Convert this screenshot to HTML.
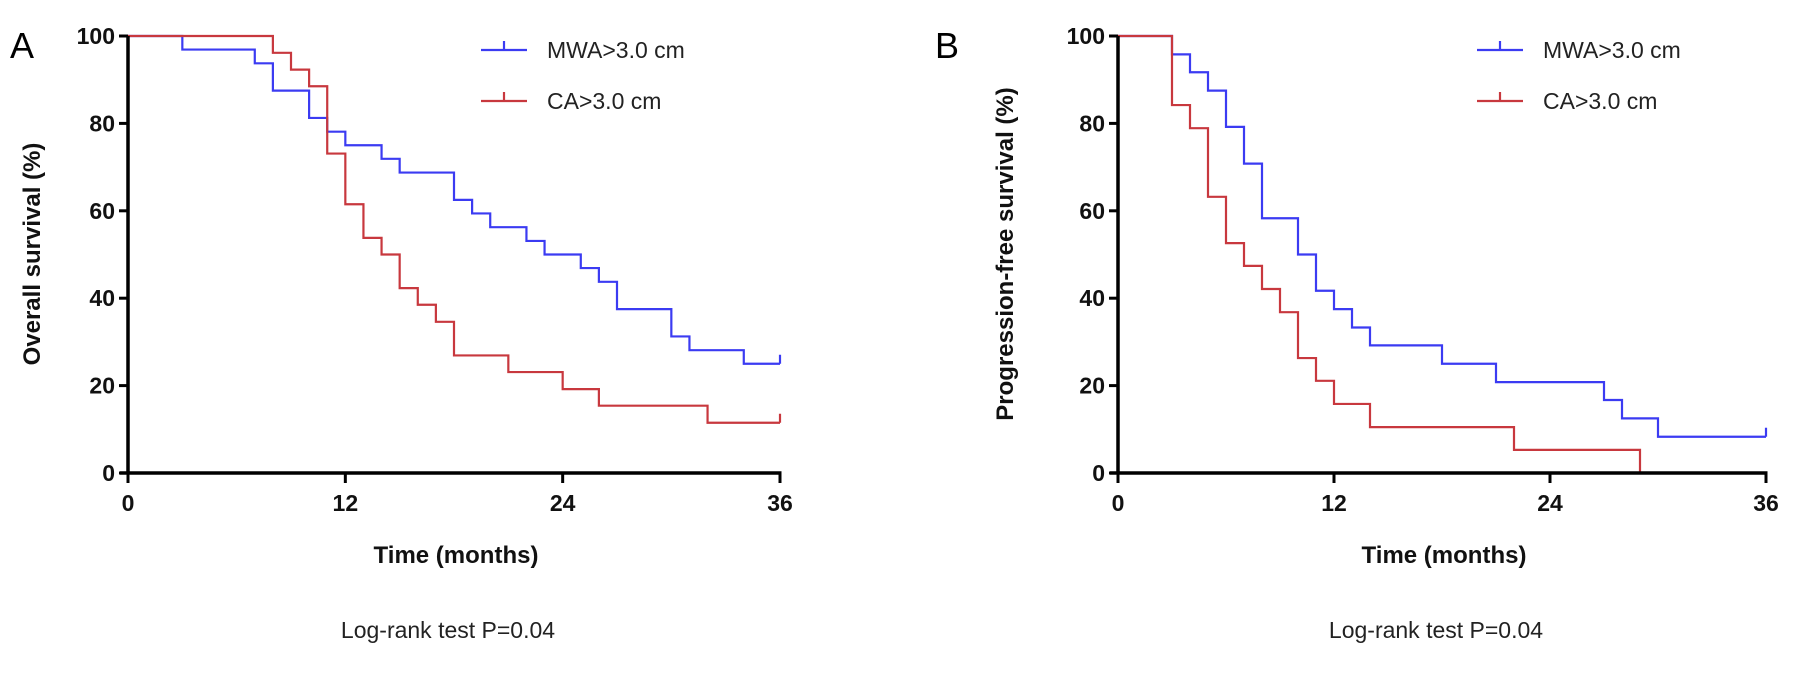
<!DOCTYPE html>
<html><head><meta charset="utf-8"><style>
html,body{margin:0;padding:0;background:#fff}
svg{display:block}
text{font-family:"Liberation Sans",Arial,sans-serif}
</style></head><body>
<svg id="chart" width="1795" height="686" viewBox="0 0 1795 686" xmlns="http://www.w3.org/2000/svg"></svg>
<script>
// Panel A: overall survival
const aTicksX = [0, 12, 24, 36];
const aTicksY = [0, 20, 40, 60, 80, 100];
const aMwaTimes = [0, 3, 7, 8, 10, 11, 12, 14, 15, 18, 19, 20, 22, 23, 25, 26, 27, 30, 31, 34, 36];
const aMwaVals  = [100, 96.9, 93.75, 87.5, 81.25, 78.1, 75, 71.9, 68.75, 62.5, 59.4, 56.25, 53.1, 50, 46.9, 43.75, 37.5, 31.25, 28.1, 25, 25];
const aCaTimes = [0, 8, 9, 10, 11, 12, 13, 14, 15, 16, 17, 18, 21, 24, 26, 32, 36];
const aCaVals  = [100, 96.15, 92.3, 88.5, 73.1, 61.5, 53.8, 50, 42.3, 38.5, 34.6, 26.9, 23.1, 19.2, 15.4, 11.5, 11.5];
// Panel B: progression-free survival
const bMwaTimes = [0, 3, 4, 5, 6, 7, 8, 10, 11, 12, 13, 14, 18, 21, 27, 28, 30, 36];
const bMwaVals  = [100, 95.8, 91.7, 87.5, 79.2, 70.8, 58.3, 50, 41.7, 37.5, 33.3, 29.2, 25, 20.8, 16.7, 12.5, 8.3, 8.3];
const bCaTimes = [0, 3, 4, 5, 6, 7, 8, 9, 10, 11, 12, 14, 22, 29];
const bCaVals  = [100, 84.2, 78.9, 63.2, 52.6, 47.4, 42.1, 36.8, 26.3, 21.1, 15.8, 10.5, 5.3, 0];
const legendLabels = ["MWA>3.0 cm", "CA>3.0 cm"];

const NS = "http://www.w3.org/2000/svg";
const svg = document.getElementById("chart");
function el(tag, attrs, parent, txt){
  const e = document.createElementNS(NS, tag);
  for (const k in attrs) e.setAttribute(k, attrs[k]);
  if (txt !== undefined) e.textContent = txt;
  (parent || svg).appendChild(e);
  return e;
}
const BLUE = "#3b3bf2", RED = "#c8383e";

function panel(cfg){
  const g = el("g", {});
  
  
  const x = t => cfg.x0 + (cfg.x1 - cfg.x0) * t / 36;
  const y = v => cfg.y0 + (cfg.y100 - cfg.y0) * v / 100;
  // panel letter
  const lt = el("text", {x: cfg.letterX, y: 58, "font-size": 36}, g, cfg.letter);
  
  
  // series
  function series(times, vals, color, nm){
    let d = "M" + x(times[0]) + "," + y(vals[0]);
    for (let i = 1; i < times.length; i++){
      d += " H" + x(times[i]) + " V" + y(vals[i]);
    }
    const p = el("path", {d: d, fill: "none", stroke: color, "stroke-width": 2.2}, g);
    
    
    const last = times.length - 1;
    if (vals[last] > 0){
      const c = el("line", {x1: x(times[last]), x2: x(times[last]), y1: y(vals[last]), y2: y(vals[last]) - 9, stroke: color, "stroke-width": 2.2}, g);
      
      
    }
  }
  series(cfg.mt, cfg.mv, BLUE, 'mwa-curve');
  series(cfg.ct, cfg.cv, RED, 'ca-curve');
  // axes
  const ya = el("line", {x1: cfg.x0, x2: cfg.x0, y1: y(0), y2: y(100), stroke: "#000", "stroke-width": 3.5}, g);
  
  
  const xa = el("line", {x1: cfg.x0 - 8, x2: x(36) + 1.5, y1: y(0), y2: y(0), stroke: "#000", "stroke-width": 3.5}, g);
  
  
  aTicksY.forEach(v => {
    const tk = el("line", {x1: cfg.x0 - 9, x2: cfg.x0, y1: y(v), y2: y(v), stroke: "#000", "stroke-width": 3}, g);
    
    
    const tl = el("text", {x: cfg.x0 - 13, y: y(v) + 8, "font-size": 23, "font-weight": "bold", "text-anchor": "end", fill: "#111"}, g, String(v));
    
    
  });
  aTicksX.forEach(t => {
    const tk = el("line", {x1: x(t), x2: x(t), y1: y(0), y2: y(0) + 10, stroke: "#000", "stroke-width": 3}, g);
    
    
    const tl = el("text", {x: x(t), y: y(0) + 38, "font-size": 23, "font-weight": "bold", "text-anchor": "middle", fill: "#111"}, g, String(t));
    
    
  });
  const xt = el("text", {x: (cfg.x0 + cfg.x1) / 2 + 2, y: 563, "font-size": 24, "font-weight": "bold", "text-anchor": "middle", fill: "#111"}, g, "Time (months)");
  
  
  const yt = el("text", {x: 0, y: 0, "font-size": 24, "font-weight": "bold", "text-anchor": "middle", fill: "#111", transform: "translate(" + cfg.ytX + "," + cfg.ytY + ") rotate(-90)"}, g, cfg.yTitle);
  
  
  const lr = el("text", {x: (cfg.x0 + cfg.x1) / 2 - 6, y: 638, "font-size": 23, "text-anchor": "middle", fill: "#222"}, g, "Log-rank test P=0.04");
  
  
  // legend
  [[BLUE, 50], [RED, 101]].forEach((it, i) => {
    const lg = el("g", {}, g);
    
    
    el("line", {x1: cfg.legX, x2: cfg.legX + 46, y1: it[1], y2: it[1], stroke: it[0], "stroke-width": 2.2}, lg);
    el("line", {x1: cfg.legX + 23, x2: cfg.legX + 23, y1: it[1], y2: it[1] - 9, stroke: it[0], "stroke-width": 2.2}, lg);
    el("text", {x: cfg.legX + 66, y: it[1] + 8, "font-size": 23, fill: "#222"}, lg, legendLabels[i]);
  });
}
panel({name: "panel-a-overall-survival", letter: "A", letterX: 10, x0: 128, x1: 780, y0: 473, y100: 36,
  mt: aMwaTimes, mv: aMwaVals, ct: aCaTimes, cv: aCaVals, yTitle: "Overall survival (%)", ytX: 40, ytY: 254, legX: 481});
panel({name: "panel-b-progression-free-survival", letter: "B", letterX: 935, x0: 1118, x1: 1766, y0: 473, y100: 36,
  mt: bMwaTimes, mv: bMwaVals, ct: bCaTimes, cv: bCaVals, yTitle: "Progression-free survival (%)", ytX: 1013, ytY: 254, legX: 1477});
</script>
</body></html>
